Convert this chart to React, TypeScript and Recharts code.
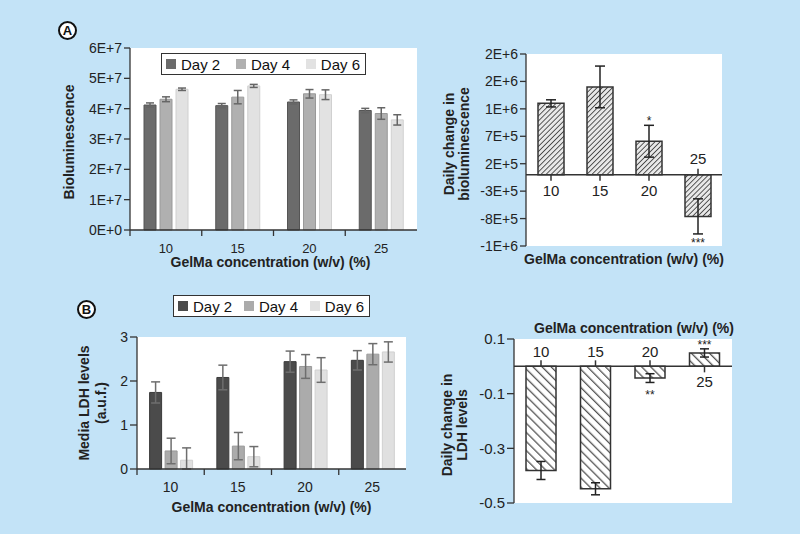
import React from "react";
import {
  BarChart,
  Bar,
  XAxis,
  YAxis,
  ErrorBar,
  Legend,
  CartesianGrid,
  ReferenceLine,
  LabelList,
} from "recharts";

const FONT = "'Liberation Sans', Arial, Helvetica, sans-serif";
const BG = "#c3e3f7";
const INK = "#222";
const AXIS = "#333";

// shared categories
const concentrations = ["10", "15", "20", "25"];

// Panel A left: bioluminescence per day
const bioDay2 = [4.12e7, 4.1e7, 4.22e7, 3.94e7];
const bioDay2Err = [0.07e7, 0.07e7, 0.07e7, 0.07e7];
const bioDay4 = [4.31e7, 4.38e7, 4.49e7, 3.84e7];
const bioDay4Err = [0.08e7, 0.22e7, 0.14e7, 0.19e7];
const bioDay6 = [4.64e7, 4.75e7, 4.46e7, 3.63e7];
const bioDay6Err = [0.04e7, 0.05e7, 0.16e7, 0.17e7];
const bioTicks = [0, 1e7, 2e7, 3e7, 4e7, 5e7, 6e7];
const bioTickLabels = ["0E+0", "1E+7", "2E+7", "3E+7", "4E+7", "5E+7", "6E+7"];

// Panel A right: daily change in bioluminescence
const bioDelta = [1.3e6, 1.6e6, 0.61e6, -0.76e6];
const bioDeltaErr = [0.065e6, 0.38e6, 0.29e6, 0.32e6];
const bioDeltaStars = ["", "", "*", "***"];
const bioDeltaTicks = [-1.3e6, -0.8e6, -0.3e6, 0.2e6, 0.7e6, 1.2e6, 1.7e6, 2.2e6];
const bioDeltaTickLabels = ["-1E+6", "-8E+5", "-3E+5", "2E+5", "7E+5", "1E+6", "2E+6", "2E+6"];

// Panel B left: media LDH levels per day
const ldhDay2 = [1.74, 2.08, 2.44, 2.47];
const ldhDay2Err = [0.24, 0.28, 0.24, 0.22];
const ldhDay4 = [0.41, 0.52, 2.33, 2.61];
const ldhDay4Err = [0.29, 0.31, 0.27, 0.24];
const ldhDay6 = [0.2, 0.28, 2.25, 2.66];
const ldhDay6Err = [0.28, 0.23, 0.28, 0.23];
const ldhTicks = [0, 1, 2, 3];

// Panel B right: daily change in LDH levels
const ldhDelta = [-0.381, -0.448, -0.043, 0.049];
const ldhDeltaErr = [0.033, 0.022, 0.016, 0.015];
const ldhDeltaStars = ["", "", "**", "***"];
const ldhDeltaTicks = [-0.5, -0.3, -0.1, 0.1];

const bioRows = concentrations.map((conc, i) => ({
  conc,
  day2: bioDay2[i],
  day2Err: bioDay2Err[i],
  day4: bioDay4[i],
  day4Err: bioDay4Err[i],
  day6: bioDay6[i],
  day6Err: bioDay6Err[i],
}));

const bioDeltaRows = concentrations.map((conc, i) => ({
  conc,
  delta: bioDelta[i],
  err: bioDeltaErr[i],
}));

// lower error can't go below zero on this plot
const ldhRows = concentrations.map((conc, i) => ({
  conc,
  day2: ldhDay2[i],
  day2Err: [Math.min(ldhDay2Err[i], ldhDay2[i]), ldhDay2Err[i]],
  day4: ldhDay4[i],
  day4Err: [Math.min(ldhDay4Err[i], ldhDay4[i]), ldhDay4Err[i]],
  day6: ldhDay6[i],
  day6Err: [Math.min(ldhDay6Err[i], ldhDay6[i]), ldhDay6Err[i]],
}));

const ldhDeltaRows = concentrations.map((conc, i) => ({
  conc,
  delta: ldhDelta[i],
  err: ldhDeltaErr[i],
}));

// category label in the middle, tick mark on the band's left edge
function BandTick(props: any) {
  const { x, y, payload, width, visibleTicksCount, fontSize, labelDy } = props;
  const band = width / (visibleTicksCount || 4);
  const edge = x - band / 2;
  return (
    <g>
      <line x1={edge} x2={edge} y1={y} y2={y + 6} stroke={AXIS} strokeWidth={1.3} />
      <text
        x={x}
        y={y + labelDy}
        textAnchor="middle"
        dominantBaseline="central"
        fontFamily={FONT}
        fontSize={fontSize}
        fill={INK}
      >
        {payload.value}
      </text>
    </g>
  );
}

function StackedTitle(props: any) {
  const { viewBox, lines, offsets, shift = 0 } = props;
  const cy = viewBox.y + viewBox.height / 2 + shift;
  return (
    <g>
      {lines.map((line: string, i: number) => {
        const cx = viewBox.x + offsets[i];
        return (
          <text
            key={line}
            x={cx}
            y={cy}
            transform={`rotate(-90, ${cx}, ${cy})`}
            textAnchor="middle"
            dominantBaseline="central"
            fontFamily={FONT}
            fontSize={14}
            fontWeight="bold"
            fill={INK}
          >
            {line}
          </text>
        );
      })}
    </g>
  );
}

function AxisTitle(props: any) {
  const { viewBox, text, dx = 0, dy } = props;
  return (
    <text
      x={viewBox.x + viewBox.width / 2 + dx}
      y={viewBox.y + dy}
      textAnchor="middle"
      dominantBaseline="central"
      fontFamily={FONT}
      fontSize={14}
      fontWeight="bold"
      fill={INK}
    >
      {text}
    </text>
  );
}

function barBox(props: any) {
  const vb = props.viewBox || props;
  const { x, y, width, height } = vb;
  return {
    cx: x + width / 2,
    top: Math.min(y, y + height),
    bottom: Math.max(y, y + height),
    h: Math.abs(height),
  };
}

// axis tick + label drawn on the zero line, on the side away from the bar
function zeroTick(values: number[], fontSize: number, gap: number) {
  return (props: any) => {
    const i = props.index;
    const v = values[i];
    const { cx, top, bottom } = barBox(props);
    const zeroY = v >= 0 ? bottom : top;
    const dir = v >= 0 ? 1 : -1;
    return (
      <g>
        <line x1={cx} x2={cx} y1={zeroY} y2={zeroY + dir * 6} stroke={AXIS} strokeWidth={1.5} />
        <text
          x={cx}
          y={zeroY + dir * gap}
          textAnchor="middle"
          dominantBaseline="central"
          fontFamily={FONT}
          fontSize={fontSize}
          fill={INK}
        >
          {concentrations[i]}
        </text>
      </g>
    );
  };
}

function starMarks(values: number[], errs: number[], stars: string[], belowGap: number) {
  return (props: any) => {
    const i = props.index;
    if (!stars[i]) return null;
    const v = values[i];
    const { cx, top, bottom, h } = barBox(props);
    const ppu = h / Math.abs(v);
    const y = v >= 0 ? top - errs[i] * ppu : bottom + errs[i] * ppu + belowGap;
    return (
      <text x={cx} y={y} textAnchor="middle" fontFamily={FONT} fontSize={12} fill={INK}>
        {stars[i]}
      </text>
    );
  };
}

function BoxLegend(props: any) {
  const { payload, boxWidth } = props;
  return (
    <div
      style={{
        width: boxWidth,
        height: 22,
        boxSizing: "border-box",
        border: `1.5px solid ${AXIS}`,
        background: "#fff",
        display: "flex",
        alignItems: "center",
        justifyContent: "space-between",
        padding: "0 5px 0 4px",
        fontFamily: FONT,
        fontSize: 15,
        color: "#111",
        whiteSpace: "nowrap",
      }}
    >
      {(payload || []).map((p: any) => (
        <div key={p.value} style={{ display: "flex", alignItems: "center", gap: 5 }}>
          <span style={{ width: 10, height: 10, background: p.color, display: "inline-block" }} />
          {p.value}
        </div>
      ))}
    </div>
  );
}

function CircleTag({ letter, left, top }: { letter: string; left: number; top: number }) {
  return (
    <div
      style={{
        position: "absolute",
        left,
        top,
        width: 15,
        height: 15,
        border: "2px solid #111",
        borderRadius: "50%",
        background: "#fff",
        fontFamily: FONT,
        fontWeight: "bold",
        fontSize: 13,
        lineHeight: "15px",
        textAlign: "center",
        color: "#111",
      }}
    >
      {letter}
    </div>
  );
}

function BioChart() {
  return (
    <BarChart
      width={390}
      height={250}
      data={bioRows}
      margin={{ top: 18, right: 13, bottom: 10, left: 20 }}
      barCategoryGap={14}
      barGap={4}
    >
      <CartesianGrid fill="#fff" stroke="none" horizontal={false} vertical={false} />
      <XAxis
        dataKey="conc"
        height={40}
        tickSize={0}
        tickMargin={0}
        axisLine={{ stroke: AXIS, strokeWidth: 1.3 }}
        tick={<BandTick fontSize={13} labelDy={18} />}
        label={<AxisTitle text="GelMa concentration (w/v) (%)" dx={-3} dy={32} />}
      />
      <YAxis
        width={70}
        domain={[0, 6e7]}
        ticks={bioTicks}
        interval={0}
        tickFormatter={(v: number, i: number) => bioTickLabels[i]}
        tick={{ fill: INK, fontSize: 14, fontFamily: FONT }}
        axisLine={{ stroke: AXIS, strokeWidth: 1.3 }}
        tickLine={{ stroke: AXIS, strokeWidth: 1.3 }}
        label={<StackedTitle lines={["Bioluminescence"]} offsets={[8.5]} shift={3} />}
      />
      <Legend
        layout="horizontal"
        verticalAlign="middle"
        align="center"
        wrapperStyle={{ left: 121, top: 23, width: 205 }}
        content={<BoxLegend boxWidth={205} />}
      />
      <Bar dataKey="day2" name="Day 2" fill="#6b6b6b" stroke="#555" isAnimationActive={false}>
        <ErrorBar dataKey="day2Err" width={4} stroke="#666" strokeWidth={1.5} isAnimationActive={false} />
      </Bar>
      <Bar dataKey="day4" name="Day 4" fill="#b0b0b0" stroke="#999" isAnimationActive={false}>
        <ErrorBar dataKey="day4Err" width={4} stroke="#666" strokeWidth={1.5} isAnimationActive={false} />
      </Bar>
      <Bar dataKey="day6" name="Day 6" fill="#e2e2e2" stroke="#d0d0d0" isAnimationActive={false}>
        <ErrorBar dataKey="day6Err" width={4} stroke="#666" strokeWidth={1.5} isAnimationActive={false} />
      </Bar>
    </BarChart>
  );
}

function BioDeltaChart() {
  return (
    <BarChart
      width={320}
      height={250}
      data={bioDeltaRows}
      margin={{ top: 24, right: 18, bottom: 4, left: 8 }}
      barSize={26}
    >
      <defs>
        <pattern id="hatchA" patternUnits="userSpaceOnUse" width="3.6" height="3.6" patternTransform="rotate(45)">
          <rect width="3.6" height="3.6" fill="#e8e8e8" />
          <line x1="0" y1="0" x2="0" y2="3.6" stroke="#333" strokeWidth="1.6" />
        </pattern>
      </defs>
      <CartesianGrid fill="#fff" stroke="none" horizontal={false} vertical={false} />
      <XAxis
        dataKey="conc"
        height={30}
        tick={false}
        axisLine={false}
        tickLine={false}
        label={<AxisTitle text="GelMa concentration (w/v) (%)" dy={13} />}
      />
      <YAxis
        width={98}
        domain={[-1.3e6, 2.2e6]}
        ticks={bioDeltaTicks}
        interval={0}
        tickFormatter={(v: number, i: number) => bioDeltaTickLabels[i]}
        tick={{ fill: INK, fontSize: 14, fontFamily: FONT }}
        axisLine={{ stroke: AXIS, strokeWidth: 1.3 }}
        tickLine={{ stroke: AXIS, strokeWidth: 1.3 }}
        label={
          <StackedTitle lines={["Daily change in", "bioluminescence"]} offsets={[21, 36]} shift={-6} />
        }
      />
      <ReferenceLine y={0} stroke={AXIS} strokeWidth={1.5} />
      <Bar dataKey="delta" fill="url(#hatchA)" stroke="#333" strokeWidth={1.5} isAnimationActive={false}>
        <ErrorBar dataKey="err" width={5} stroke="#222" strokeWidth={1.5} isAnimationActive={false} />
        <LabelList dataKey="delta" content={zeroTick(bioDelta, 15, 16)} />
        <LabelList dataKey="delta" content={starMarks(bioDelta, bioDeltaErr, bioDeltaStars, 13)} />
      </Bar>
    </BarChart>
  );
}

function LdhChart() {
  return (
    <BarChart
      width={380}
      height={230}
      data={ldhRows}
      margin={{ top: 47, right: 14, bottom: 10, left: 20 }}
      barCategoryGap={12.6}
      barGap={3.5}
    >
      <CartesianGrid fill="#fff" stroke="none" horizontal={false} vertical={false} />
      <XAxis
        dataKey="conc"
        height={41}
        tickSize={0}
        tickMargin={0}
        axisLine={{ stroke: AXIS, strokeWidth: 1.3 }}
        tick={<BandTick fontSize={14} labelDy={18} />}
        label={<AxisTitle text="GelMa concentration (w/v) (%)" dy={38} />}
      />
      <YAxis
        width={77}
        domain={[0, 3]}
        ticks={ldhTicks}
        interval={0}
        tick={{ fill: INK, fontSize: 14, fontFamily: FONT }}
        tickSize={7}
        axisLine={{ stroke: AXIS, strokeWidth: 1.3 }}
        tickLine={{ stroke: AXIS, strokeWidth: 1.3 }}
        label={<StackedTitle lines={["Media LDH levels", "(a.u.f.)"]} offsets={[23.5, 40.5]} />}
      />
      <Legend
        layout="horizontal"
        verticalAlign="middle"
        align="center"
        wrapperStyle={{ left: 133, top: 5, width: 197 }}
        content={<BoxLegend boxWidth={197} />}
      />
      <Bar dataKey="day2" name="Day 2" fill="#4b4b4b" stroke="#3a3a3a" isAnimationActive={false}>
        <ErrorBar dataKey="day2Err" width={4.5} stroke="#6e6e6e" strokeWidth={1.5} isAnimationActive={false} />
      </Bar>
      <Bar dataKey="day4" name="Day 4" fill="#ababab" stroke="#999" isAnimationActive={false}>
        <ErrorBar dataKey="day4Err" width={4.5} stroke="#6e6e6e" strokeWidth={1.5} isAnimationActive={false} />
      </Bar>
      <Bar dataKey="day6" name="Day 6" fill="#e0e0e0" stroke="#d0d0d0" isAnimationActive={false}>
        <ErrorBar dataKey="day6Err" width={4.5} stroke="#6e6e6e" strokeWidth={1.5} isAnimationActive={false} />
      </Bar>
    </BarChart>
  );
}

function LdhDeltaChart() {
  return (
    <BarChart
      width={320}
      height={215}
      data={ldhDeltaRows}
      margin={{ top: 14, right: 8, bottom: 12, left: 10 }}
      barSize={30}
    >
      <defs>
        <pattern id="hatchB" patternUnits="userSpaceOnUse" width="6.4" height="6.4" patternTransform="rotate(-45)">
          <rect width="6.4" height="6.4" fill="#fff" />
          <line x1="0" y1="0" x2="0" y2="6.4" stroke="#555" strokeWidth="2.6" />
        </pattern>
      </defs>
      <CartesianGrid fill="#fff" stroke="none" horizontal={false} vertical={false} />
      <XAxis
        dataKey="conc"
        orientation="top"
        height={25}
        tick={false}
        axisLine={false}
        tickLine={false}
        label={<AxisTitle text="GelMa concentration (w/v) (%)" dx={11} dy={14} />}
      />
      <YAxis
        width={84}
        domain={[-0.5, 0.1]}
        ticks={ldhDeltaTicks}
        interval={0}
        tick={{ fill: INK, fontSize: 15, fontFamily: FONT }}
        tickSize={7}
        axisLine={{ stroke: AXIS, strokeWidth: 1.3 }}
        tickLine={{ stroke: AXIS, strokeWidth: 1.3 }}
        label={<StackedTitle lines={["Daily change in", "LDH levels"]} offsets={[16.5, 31.5]} shift={4} />}
      />
      <ReferenceLine y={0} stroke={AXIS} strokeWidth={1.5} />
      <Bar dataKey="delta" fill="url(#hatchB)" stroke="#333" strokeWidth={1.5} isAnimationActive={false}>
        <ErrorBar dataKey="err" width={4.5} stroke="#222" strokeWidth={1.5} isAnimationActive={false} />
        <LabelList dataKey="delta" content={zeroTick(ldhDelta, 15, 15)} />
        <LabelList dataKey="delta" content={starMarks(ldhDelta, ldhDeltaErr, ldhDeltaStars, 17)} />
      </Bar>
    </BarChart>
  );
}

export default function App() {
  return (
    <div
      style={{
        position: "absolute",
        left: 0,
        top: 0,
        width: 800,
        height: 534,
        background: BG,
        fontFamily: FONT,
        overflow: "hidden",
      }}
    >
      <CircleTag letter="A" left={58} top={21} />
      <CircleTag letter="B" left={77} top={300} />
      <div style={{ position: "absolute", left: 40, top: 30 }}>
        <BioChart />
      </div>
      <div style={{ position: "absolute", left: 420, top: 30 }}>
        <BioDeltaChart />
      </div>
      <div style={{ position: "absolute", left: 40, top: 290 }}>
        <LdhChart />
      </div>
      <div style={{ position: "absolute", left: 420, top: 300 }}>
        <LdhDeltaChart />
      </div>
    </div>
  );
}
